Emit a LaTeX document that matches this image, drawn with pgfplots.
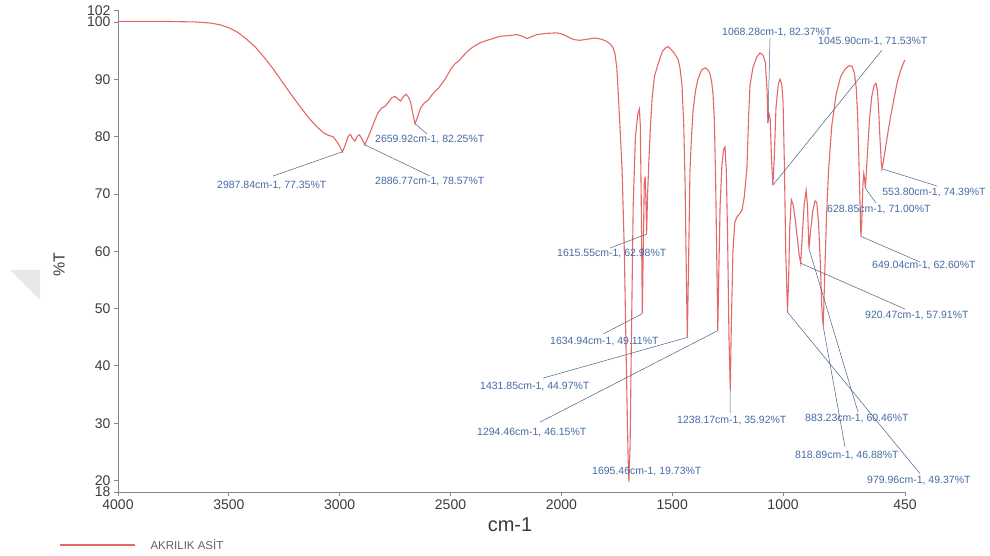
\documentclass[border=0pt]{standalone}
\usepackage{fontspec}
\setmainfont{Liberation Sans}
\usepackage{pgfplots}
\pgfplotsset{compat=1.18}

\definecolor{spec}{RGB}{228,104,104}
\definecolor{lbl}{RGB}{70,105,165}
\definecolor{lead}{RGB}{75,95,135}
\definecolor{axgray}{RGB}{135,135,135}
\definecolor{ticktxt}{RGB}{60,60,60}

\begin{document}
\begin{tikzpicture}[x=1pt,y=1pt,
    lb/.style={anchor=west, inner sep=0pt, text=lbl, font=\fontsize{10.5}{11}\selectfont},
    ld/.style={lead, line width=0.5pt}]
\useasboundingbox (0,0) rectangle (990,556);
\fill[black!9] (10,286) -- (40,286) -- (40,256) -- cycle;
\begin{axis}[
    at={(118pt,64pt)}, anchor=south west,
    scale only axis, width=787pt, height=481.5pt,
    xmin=450, xmax=4000, x dir=reverse,
    ymin=18, ymax=102,
    axis lines=left,
    axis line style={axgray, line width=0.8pt, -},
    xtick={4000,3500,3000,2500,2000,1500,1000,450},
    ytick={18,20,30,40,50,60,70,80,90,100,102},
    tick align=outside, major tick length=4pt,
    tick style={axgray, line width=0.8pt},
    ticklabel style={font=\fontsize{14}{14}\selectfont, text=ticktxt},
    /pgf/number format/assume math mode=true,
    /pgf/number format/set thousands separator={},
    clip=false,
]

\addplot[spec, line width=1.1pt] coordinates {
(4000,100.1) (3800,100.1) (3650,100.0) (3580,99.8) (3540,99.5) (3500,99.0)
(3460,98.2) (3420,97.0) (3380,95.6) (3340,93.8) (3300,91.8) (3260,89.6)
(3220,87.4) (3180,85.3) (3140,83.3) (3100,81.6) (3070,80.6) (3050,80.2)
(3030,80.0) (3012,79.1) (3000,78.3) (2987.84,77.35) (2975,78.5) (2962,80.0)
(2952,80.4) (2944,79.8) (2931,79.2) (2920,80.1) (2910,80.3) (2900,79.6)
(2886.77,78.57) (2875,79.6) (2860,81.0) (2850,82.0) (2840,83.0) (2827,84.2)
(2810,85.0) (2795,85.3) (2782,85.9) (2765,86.8) (2750,87.0) (2738,86.6)
(2725,86.2) (2712,87.0) (2700,87.4) (2690,86.9) (2680,86.0) (2670,84.0)
(2659.92,82.25) (2648,83.5) (2635,85.0) (2620,85.8) (2600,86.4) (2585,87.2)
(2570,87.9) (2555,88.4) (2540,89.2) (2525,90.0) (2510,91.0) (2495,92.0)
(2480,92.7) (2460,93.3) (2445,94.0) (2420,95.0) (2400,95.6) (2370,96.3)
(2335,96.8) (2300,97.2) (2277,97.5) (2240,97.6) (2200,97.8) (2175,97.5)
(2155,97.1) (2130,97.5) (2110,97.8) (2070,98.0) (2020,98.1) (1990,97.8)
(1961,97.2) (1940,96.9) (1916,96.8) (1880,97.0) (1850,97.2) (1820,97.0)
(1800,96.7) (1781,96.2) (1768,95.6) (1758,94.4) (1750,92.0) (1744,88.0)
(1736,82.0) (1726,74.0) (1716,60.0) (1706,38.0) (1699,24.0) (1695.46,19.73)
(1690,26.0) (1684,45.0) (1676,68.0) (1666,80.0) (1655,84.0) (1648,84.8)
(1644,82.0) (1640,70.0) (1634.94,49.11) (1630,62.0) (1626,72.0) (1622,73.0)
(1618,68.0) (1615.55,62.98) (1611,70.0) (1605,76.0) (1598,82.0) (1590,87.0)
(1580,90.5) (1565,92.5) (1545,94.8) (1530,95.5) (1519,95.7) (1505,95.2)
(1490,94.5) (1474,93.5) (1465,92.0) (1456,89.0) (1448,82.0) (1442,72.0)
(1436,55.0) (1431.85,44.97) (1427,56.0) (1420,74.0) (1413,80.0) (1406,84.5)
(1395,88.0) (1384,90.0) (1368,91.6) (1352,92.0) (1340,91.7) (1330,91.0)
(1322,89.5) (1316,87.5) (1310,83.0) (1304,72.0) (1298,56.0) (1294.46,46.15)
(1290,56.0) (1284,68.0) (1276,75.0) (1268,77.8) (1262,78.2) (1256,74.0)
(1250,62.0) (1244,45.0) (1238.17,35.92) (1233,48.0) (1226,60.0) (1218,65.0)
(1208,66.0) (1196,66.5) (1185,67.2) (1175,69.5) (1163,74.5) (1155,84.0)
(1149,89.0) (1136,92.0) (1120,93.8) (1104,94.6) (1090,94.2) (1080,93.0)
(1072,88.0) (1068.28,82.37) (1064,84.0) (1058,83.0) (1052,76.0) (1045.90,71.53)
(1040,76.0) (1032,85.0) (1022,89.0) (1014,90.0) (1006,89.2) (1000,86.0)
(994,75.0) (988,60.0) (979.96,49.37) (975,55.0) (970,64.0) (963,69.0)
(955,68.2) (945,65.5) (935,62.0) (928,59.5) (920.47,57.91) (913,63.0)
(905,68.0) (896,70.6) (890,68.0) (883.23,60.46) (876,63.5) (866,67.0)
(856,68.8) (848,68.5) (840,65.0) (832,58.0) (825,50.0) (818.89,46.88)
(812,56.0) (804,66.0) (795,74.0) (780,82.0) (760,87.5) (740,90.5)
(720,91.8) (700,92.4) (688,92.2) (678,91.0) (670,88.5) (664,84.0)
(658,76.0) (652,67.0) (649.04,62.60) (645,65.0) (640,71.5) (636,73.5)
(632,72.5) (628.85,71.00) (624,74.0) (618,78.0) (610,83.0) (600,87.0)
(590,88.8) (581,89.3) (574,88.0) (568,84.0) (562,79.0) (557,75.5)
(553.80,74.39) (548,75.5) (540,77.5) (530,80.0) (515,83.5) (500,86.5)
(485,89.5) (470,91.5) (455,93.0) (450,93.4)
};

% peak labels
\node[lb] at (axis cs:3553.4,71.55) {2987.84cm-1, 77.35\%T};
\draw[ld] (axis cs:3300.8,73.12) -- (axis cs:2987.84,77.35);
\node[lb] at (axis cs:2840.7,79.41) {2659.92cm-1, 82.25\%T};
\draw[ld] (axis cs:2659.92,82.25) -- (axis cs:2606.1,80.45);
\node[lb] at (axis cs:2840.7,72.08) {2886.77cm-1, 78.57\%T};
\draw[ld] (axis cs:2886.77,78.57) -- (axis cs:2592.6,73.12);
\node[lb] at (axis cs:2019.7,59.69) {1615.55cm-1, 62.98\%T};
\draw[ld] (axis cs:1780.6,60.56) -- (axis cs:1615.55,62.98);
\node[lb] at (axis cs:2051.2,44.33) {1634.94cm-1, 49.11\%T};
\draw[ld] (axis cs:1812.2,45.55) -- (axis cs:1634.94,49.11);
\node[lb] at (axis cs:2367.0,36.47) {1431.85cm-1, 44.97\%T};
\draw[ld] (axis cs:2082.8,37.87) -- (axis cs:1431.85,44.97);
\node[lb] at (axis cs:2380.6,28.45) {1294.46cm-1, 46.15\%T};
\draw[ld] (axis cs:2096.4,30.19) -- (axis cs:1294.46,46.15);
\node[lb] at (axis cs:1861.8,21.64) {1695.46cm-1, 19.73\%T};
\node[lb] at (axis cs:1478.3,30.54) {1238.17cm-1, 35.92\%T};
\draw[ld] (axis cs:1239.3,31.76) -- (axis cs:1238.17,35.92);
\node[lb] at (axis cs:900.9,30.89) {883.23cm-1, 60.46\%T};
\draw[ld] (axis cs:661.9,31.94) -- (axis cs:883.23,60.46);
\node[lb] at (axis cs:946.1,24.43) {818.89cm-1, 46.88\%T};
\draw[ld] (axis cs:720.5,25.83) -- (axis cs:818.89,46.88);
\node[lb] at (axis cs:621.3,20.07) {979.96cm-1, 49.37\%T};
\draw[ld] (axis cs:382.2,21.2) -- (axis cs:979.96,49.37);
\node[lb] at (axis cs:630.3,48.87) {920.47cm-1, 57.91\%T};
\draw[ld] (axis cs:449.8,49.91) -- (axis cs:920.47,57.91);
\node[lb] at (axis cs:598.7,57.59) {649.04cm-1, 62.60\%T};
\draw[ld] (axis cs:382.2,58.12) -- (axis cs:649.04,62.60);
\node[lb] at (axis cs:801.7,67.36) {628.85cm-1, 71.00\%T};
\draw[ld] (axis cs:580.7,68.41) -- (axis cs:628.85,71.00);
\node[lb] at (axis cs:553.0,70.16) {553.80cm-1, 74.39\%T};
\draw[ld] (axis cs:305.5,71.38) -- (axis cs:553.80,74.39);
\node[lb] at (axis cs:1275.4,98.08) {1068.28cm-1, 82.37\%T};
\draw[ld] (axis cs:1058.8,97.21) -- (axis cs:1068.28,82.37);
\node[lb] at (axis cs:842.3,96.51) {1045.90cm-1, 71.53\%T};
\draw[ld] (axis cs:553.6,95.11) -- (axis cs:1045.90,71.53);
\end{axis}

\node[rotate=90, text=ticktxt, font=\fontsize{16}{16}\selectfont] at (59,291) {\%T};
\node[text=ticktxt, font=\fontsize{20}{20}\selectfont] at (510,31) {cm-1};
\draw[spec, line width=2.5pt] (60,11) -- (135,11);
\node[anchor=west, text=ticktxt!80, font=\fontsize{11.5}{12}\selectfont] at (147,11) {AKRILIK ASİT};
\end{tikzpicture}
\end{document}
